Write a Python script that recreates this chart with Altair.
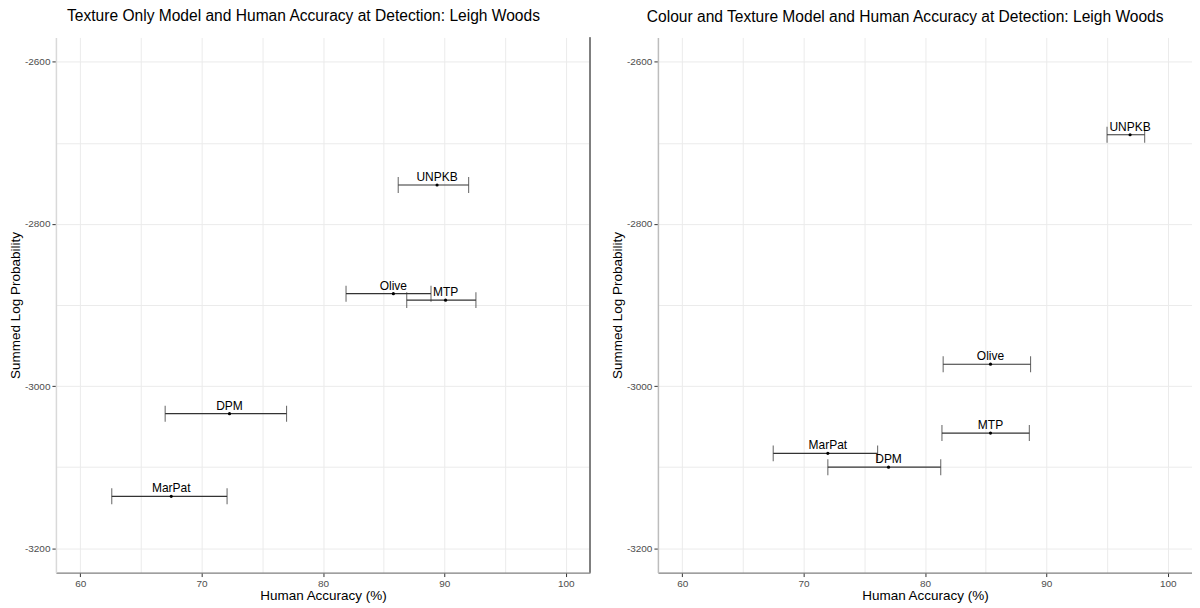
import altair as alt
import pandas as pd

# ---- data ----
models = ["UNPKB", "Olive", "MTP", "DPM", "MarPat"]

tex_acc = [89.4, 85.8, 90.1, 72.3, 67.5]
tex_lo = [86.2, 81.9, 86.9, 67.0, 62.6]
tex_hi = [92.0, 88.9, 92.6, 77.0, 72.1]
tex_lp = [-2752, -2886, -2894, -3034, -3136]

col_acc = [96.9, 85.4, 85.4, 77.0, 72.0]
col_lo = [95.0, 81.5, 81.4, 72.0, 67.5]
col_hi = [98.1, 88.7, 88.6, 81.3, 76.1]
col_lp = [-2690, -2973, -3058, -3100, -3083]

x_major = [60, 70, 80, 90, 100]
x_grid = [60, 65, 70, 75, 80, 85, 90, 95, 100]
y_major = [-3200, -3000, -2800, -2600]
y_grid = [-3200, -3100, -3000, -2900, -2800, -2700, -2600]
X_DOMAIN = [58, 102]
Y_DOMAIN = [-3230, -2570]

FONT = "Liberation Sans"
W, H = 535, 536


def panel(title, acc, lo, hi, lp, ydomain_color, right_border):
    df = pd.DataFrame({"model": models, "acc": acc, "lo": lo, "hi": hi, "lp": lp})
    xs = alt.Scale(domain=X_DOMAIN, nice=False, zero=False)
    ys = alt.Scale(domain=Y_DOMAIN, nice=False, zero=False)
    base = alt.Chart(df)

    grid = base.mark_point(opacity=0).encode(
        x=alt.X("acc:Q", scale=xs, axis=alt.Axis(
            values=x_grid, grid=True, labels=False, ticks=False, domain=False,
            title=None, orient="bottom", gridColor="#ebebeb", gridWidth=1)),
        y=alt.Y("lp:Q", scale=ys, axis=alt.Axis(
            values=y_grid, grid=True, labels=False, ticks=False, domain=False,
            title=None, orient="left", gridColor="#ebebeb", gridWidth=1)),
    )

    bars = base.mark_rule(color="#333333", strokeWidth=1.1).encode(
        x=alt.X("lo:Q", scale=xs, axis=alt.Axis(
            values=x_major, grid=False, orient="bottom", title="Human Accuracy (%)",
            labelExpr="'' + datum.value", domainColor="#7f7f7f", domainWidth=1.2,
            tickColor="#333333", tickSize=4, labelColor="#4d4d4d",
            labelFontSize=10, labelFont=FONT, labelPadding=2,
            titleFont=FONT, titleFontSize=13.5, titleFontWeight="normal",
            titleColor="black", titlePadding=0)),
        x2="hi:Q",
        y=alt.Y("lp:Q", scale=ys, axis=alt.Axis(
            values=y_major, grid=False, orient="left", title="Summed Log Probability",
            labelExpr="'' + datum.value", domainColor=ydomain_color, domainWidth=1.5,
            tickColor="#333333", tickSize=4, labelColor="#4d4d4d",
            labelFontSize=10, labelFont=FONT, labelPadding=2,
            titleFont=FONT, titleFontSize=13.5, titleFontWeight="normal",
            titleColor="black", titlePadding=2)),
    )

    cap_lo = base.mark_tick(orient="vertical", size=16, thickness=1.1, color="#333333").encode(
        x=alt.X("lo:Q", scale=xs, axis=None), y=alt.Y("lp:Q", scale=ys, axis=None))
    cap_hi = base.mark_tick(orient="vertical", size=16, thickness=1.1, color="#333333").encode(
        x=alt.X("hi:Q", scale=xs, axis=None), y=alt.Y("lp:Q", scale=ys, axis=None))
    pts = base.mark_circle(size=10, color="black", opacity=1).encode(
        x=alt.X("acc:Q", scale=xs, axis=None), y=alt.Y("lp:Q", scale=ys, axis=None))
    labels = base.mark_text(dy=-4, baseline="alphabetic", align="center",
                            fontSize=12, font=FONT, color="black").encode(
        x=alt.X("acc:Q", scale=xs, axis=None), y=alt.Y("lp:Q", scale=ys, axis=None),
        text="model:N")

    layers = [grid, bars, cap_lo, cap_hi, pts, labels]
    if right_border:
        layers.append(base.mark_rule(color="#7f7f7f", strokeWidth=1.2).encode(
            x=alt.value(W), y=alt.value(0), y2=alt.value(H)))

    return alt.layer(*layers).resolve_axis(x="independent", y="independent").properties(
        width=W, height=H,
        title=alt.TitleParams(title, font=FONT, fontSize=15.6, fontWeight="normal",
                              color="black", anchor="middle", frame="bounds",
                              offset=12, dx=4),
    )


left = panel("Texture Only Model and Human Accuracy at Detection: Leigh Woods",
             tex_acc, tex_lo, tex_hi, tex_lp, "#d9d9d9", True)
right = panel("Colour and Texture Model and Human Accuracy at Detection: Leigh Woods",
              col_acc, col_lo, col_hi, col_lp, "#bdbdbd", False)

chart = alt.hconcat(left, right, spacing=19).properties(padding=0).configure_view(stroke=None)

chart.save("out.html", embed_options={"renderer": "svg", "actions": False})
